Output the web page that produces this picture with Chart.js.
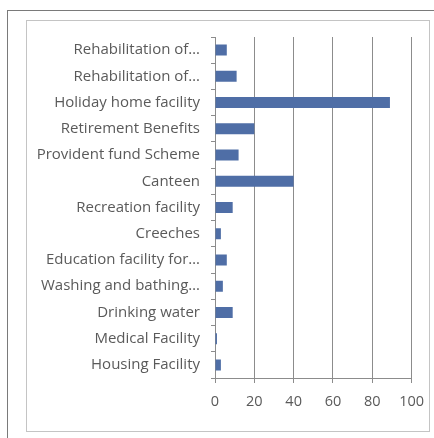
<!DOCTYPE html>
<html><head><meta charset="utf-8">
<script src="https://cdn.jsdelivr.net/npm/chart.js@4"></script>
<style>
html,body{margin:0;padding:0;background:#fff;width:434px;height:438px;overflow:hidden;}
#outer{position:absolute;left:7px;top:10px;width:440px;height:440px;border:1px solid #7a7a7a;box-sizing:border-box;}
#inner{position:absolute;left:26px;top:20px;width:404px;height:412px;border:1px solid #c4c4c4;box-sizing:border-box;}
#wrap{position:absolute;left:0;top:0;width:434px;height:438px;}
</style></head>
<body>
<div id="outer"></div><div id="inner"></div>
<div id="wrap"><canvas id="c" width="434" height="438"></canvas></div>
<script>
const categories = ["Rehabilitation of…","Rehabilitation of…","Holiday home facility","Retirement Benefits","Provident fund Scheme","Canteen","Recreation facility","Creeches","Education facility for…","Washing and bathing…","Drinking water","Medical Facility","Housing Facility"];
const values = [6,11,89,20,12,40,9,3,6,4,9,1,3];
const xTicks = [0,20,40,60,80,100];

new Chart(document.getElementById('c'),{
  type:'bar',
  data:{labels:categories,datasets:[{data:values,backgroundColor:'#4f6ea6',barPercentage:0.42,categoryPercentage:1}]},
  options:{
    indexAxis:'y',responsive:false,animation:false,
    layout:{padding:{top:37,right:21,left:0,bottom:0}},
    plugins:{legend:{display:false},tooltip:{enabled:false}},
    scales:{
      x:{min:0,max:100,
        afterBuildTicks:s=>{s.ticks=xTicks.map(v=>({value:v}));},
        afterFit:s=>{s.height=60;},
        grid:{color:'#8c8c8c',lineWidth:1,tickLength:5,drawTicks:true},
        border:{color:'#8c8c8c'},
        ticks:{color:'#5a5a5a',font:{family:'Open Sans',size:14.5},padding:10}},
      y:{
        afterFit:s=>{s.width=215;},
        grid:{drawOnChartArea:false,drawTicks:true,tickLength:4,offset:true,color:'#8c8c8c'},
        border:{color:'#8c8c8c'},
        ticks:{color:'#5a5a5a',font:{family:'Open Sans',size:15},padding:11,autoSkip:false}}
    }
  }
});
</script>
</body></html>
